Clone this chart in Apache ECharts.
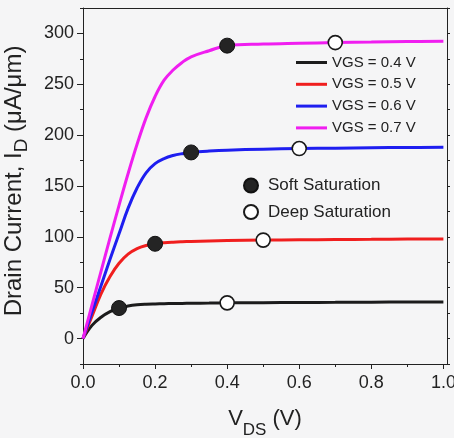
<!DOCTYPE html>
<html>
<head>
<meta charset="utf-8">
<script src="https://cdn.jsdelivr.net/npm/echarts@6/dist/echarts.min.js"></script>
<style>
  html, body { margin: 0; padding: 0; background: #f5f5f6; }
  #chart { width: 454px; height: 438px; }
</style>
</head>
<body>
<div id="chart"></div>
<script>
// Drain voltage samples (V)
const vds = [0, 0.025, 0.05, 0.075, 0.1, 0.125, 0.15, 0.175, 0.2, 0.225, 0.25, 0.275, 0.3, 0.35, 0.4, 0.5, 0.6, 0.7, 0.8, 0.9, 1.0];

// Drain current (uA/um) for each gate voltage
const id04 = [0, 13, 21, 26.5, 30, 32, 33.2, 33.8, 34.1, 34.3, 34.5, 34.6, 34.7, 34.9, 35.1, 35.3, 35.5, 35.6, 35.8, 35.9, 36];
const id05 = [0, 22, 44, 61, 74, 83, 88.5, 91.5, 93.2, 94.2, 94.8, 95.2, 95.5, 96, 96.3, 96.8, 97.1, 97.4, 97.6, 97.8, 98];
const id06 = [0, 26, 52, 78, 103, 128, 148, 163, 172, 177, 180, 181.8, 183, 184.3, 185.2, 186.2, 186.8, 187.2, 187.6, 187.9, 188];
const id07 = [0, 33, 66, 99, 131, 162, 191, 217, 238, 254, 264, 271.5, 277, 283, 288, 289.5, 290.3, 291, 291.5, 292, 292.3];

const curveNames = ['VGS = 0.4 V', 'VGS = 0.5 V', 'VGS = 0.6 V', 'VGS = 0.7 V'];
const curveColors = ['#1c1c1c', '#f01e1e', '#1e1ef0', '#f01ef0'];

// Saturation onset points
const softV = [0.1, 0.2, 0.3, 0.4];
const softI = [30, 93.2, 183, 288];
const deepV = [0.4, 0.5, 0.6, 0.7];
const deepI = [35.1, 96.8, 186.8, 291];

// Tick positions
const xMajor = [0, 0.2, 0.4, 0.6, 0.8, 1.0];
const xMinor = [0.1, 0.3, 0.5, 0.7, 0.9];
const yMajor = [0, 50, 100, 150, 200, 250, 300];
const yMinor = [25, 75, 125, 175, 225, 275, 325, -25];
const yRight = [-25, 0, 25, 50, 75, 100, 125, 150, 175, 200, 225, 250, 275, 300, 325];

const FONT = '"Liberation Sans", Arial, sans-serif';
const INK = '#222';

const pairs = (xs, ys) => xs.map((x, i) => [x, ys[i]]);

const lineSeries = [id04, id05, id06, id07].map((ys, k) => ({
  name: curveNames[k],
  type: 'line',
  data: pairs(vds, ys),
  smooth: 0.4,
  showSymbol: false,
  z: 2,
  lineStyle: { color: curveColors[k], width: 3 },
  itemStyle: { color: curveColors[k] }
}));

const baseX = {
  type: 'value', min: 0, max: 1.01, gridIndex: 0,
  splitLine: { show: false }
};
const baseY = {
  type: 'value', min: -25, max: 325, gridIndex: 0,
  splitLine: { show: false }
};

const option = {
  animation: false,
  backgroundColor: 'transparent',
  grid: { left: 83, right: 7, top: 8, bottom: 74, containLabel: false, outerBoundsMode: 'none' },
  xAxis: [
    Object.assign({}, baseX, {
      position: 'bottom',
      name: '{a|V}{s|DS}{a| (V)}',
      nameLocation: 'middle',
      nameGap: 34,
      nameTextStyle: {
        rich: {
          a: { fontSize: 22, fontFamily: FONT, color: INK },
          s: { fontSize: 17, fontFamily: FONT, color: INK, padding: [24, 0, 0, 0] }
        }
      },
      axisLine: { onZero: false, lineStyle: { color: INK, width: 1 } },
      axisTick: { show: true, inside: false, length: 5, customValues: xMajor, lineStyle: { color: INK } },
      axisLabel: {
        customValues: xMajor, margin: 10, fontSize: 18, fontFamily: FONT, color: INK,
        formatter: v => v.toFixed(1)
      }
    }),
    Object.assign({}, baseX, {
      position: 'bottom',
      axisLine: { show: false, onZero: false },
      axisTick: { show: true, inside: false, length: 3, customValues: xMinor, lineStyle: { color: INK } },
      axisLabel: { show: false }
    }),
    Object.assign({}, baseX, {
      position: 'top',
      axisLine: { show: true, onZero: false, lineStyle: { color: INK, width: 1 } },
      axisTick: { show: false },
      axisLabel: { show: false }
    })
  ],
  yAxis: [
    Object.assign({}, baseY, {
      position: 'left',
      name: '{a|Drain Current, I}{s|D}{a| (μA/μm)}',
      nameLocation: 'middle',
      nameGap: 52,
      nameTextStyle: {
        padding: [0, 0, 0, 10],
        rich: {
          a: { fontSize: 24, fontFamily: FONT, color: INK },
          s: { fontSize: 19, fontFamily: FONT, color: INK, padding: [14, 0, 0, 0] }
        }
      },
      axisLine: { onZero: false, lineStyle: { color: INK, width: 1 } },
      axisTick: { show: true, inside: false, length: 6, customValues: yMajor, lineStyle: { color: INK } },
      axisLabel: { customValues: yMajor, margin: 9, fontSize: 18, fontFamily: FONT, color: INK }
    }),
    Object.assign({}, baseY, {
      position: 'left',
      axisLine: { show: false, onZero: false },
      axisTick: { show: true, inside: false, length: 3, customValues: yMinor, lineStyle: { color: INK } },
      axisLabel: { show: false }
    }),
    Object.assign({}, baseY, {
      position: 'right',
      axisLine: { show: true, onZero: false, lineStyle: { color: INK, width: 1 } },
      axisTick: { show: true, inside: false, length: 3, customValues: yRight, lineStyle: { color: INK } },
      axisLabel: { show: false }
    })
  ],
  legend: [
    {
      data: curveNames.map(n => ({ name: n, icon: 'rect' })),
      orient: 'vertical',
      left: 296, top: 55,
      padding: 0,
      itemWidth: 31, itemHeight: 3, itemGap: 6.8,
      selectedMode: false,
      textStyle: { fontSize: 15, fontFamily: FONT, color: INK }
    },
    {
      data: [{ name: 'Soft Saturation', icon: 'circle' }, { name: 'Deep Saturation', icon: 'circle' }],
      orient: 'vertical',
      left: 243, top: 177,
      padding: 0,
      itemWidth: 24, itemHeight: 14, itemGap: 9.5,
      selectedMode: false,
      textStyle: { fontSize: 17, fontFamily: FONT, color: INK }
    }
  ],
  series: lineSeries.concat([
    {
      name: 'Soft Saturation',
      type: 'scatter',
      data: pairs(softV, softI),
      symbol: 'circle',
      symbolSize: 15,
      z: 5,
      itemStyle: { color: '#242424', borderColor: '#111', borderWidth: 1, opacity: 1 }
    },
    {
      name: 'Deep Saturation',
      type: 'scatter',
      data: pairs(deepV, deepI),
      symbol: 'circle',
      symbolSize: 14,
      z: 5,
      itemStyle: { color: '#ffffff', borderColor: '#1a1a1a', borderWidth: 1.6, opacity: 1 }
    }
  ])
};

const chart = echarts.init(document.getElementById('chart'), null, { renderer: 'canvas' });
chart.setOption(option);
</script>
</body>
</html>
